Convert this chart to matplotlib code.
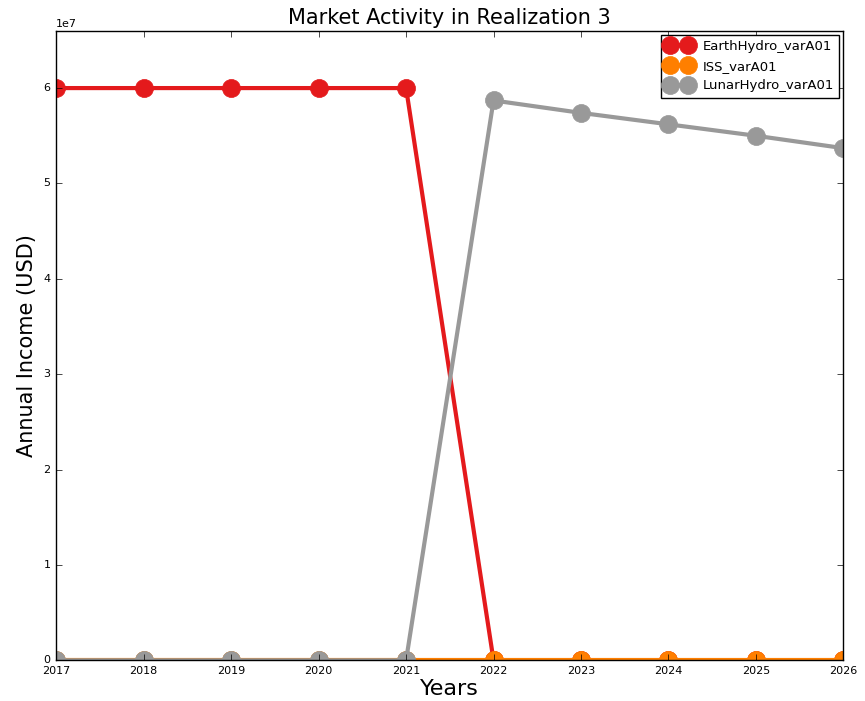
import matplotlib
matplotlib.use("Agg")
import matplotlib.pyplot as plt

plt.style.use("classic")

years = [2017, 2018, 2019, 2020, 2021, 2022, 2023, 2024, 2025, 2026]
earth_hydro = [6.0e7, 6.0e7, 6.0e7, 6.0e7, 6.0e7, 0, 0, 0, 0, 0]
iss = [0, 0, 0, 0, 0, 0, 0, 0, 0, 0]
lunar_hydro = [0, 0, 0, 0, 0, 5.87e7, 5.74e7, 5.62e7, 5.50e7, 5.37e7]

series = [
    ("EarthHydro_varA01", earth_hydro, "#e41a1c"),
    ("ISS_varA01", iss, "#ff7f00"),
    ("LunarHydro_varA01", lunar_hydro, "#999999"),
]

fig = plt.figure(figsize=(8.65, 7.01), dpi=100, facecolor="white")
ax = fig.add_axes([0.065, 0.058, 0.910, 0.898])
ax.set_facecolor("white")

for name, vals, color in series:
    ax.plot(years, vals, "-o", color=color, markerfacecolor=color,
            markeredgecolor=color, linewidth=3, markersize=13, label=name)

ax.set_xlim(2017, 2026)
ax.set_ylim(0, 6.6e7)
ax.set_xticks(years)
ax.ticklabel_format(axis="x", useOffset=False, style="plain")
ax.tick_params(labelsize=8)
ax.yaxis.get_offset_text().set_fontsize(8)

ax.set_title("Market Activity in Realization 3", fontsize=15)
ax.set_xlabel("Years", fontsize=16, labelpad=2)
ax.set_ylabel("Annual Income (USD)", fontsize=15)

ax.legend(loc="upper right", fontsize=9.5, numpoints=2, borderaxespad=0.3)

fig.savefig("out.png", dpi=100, facecolor="white")
